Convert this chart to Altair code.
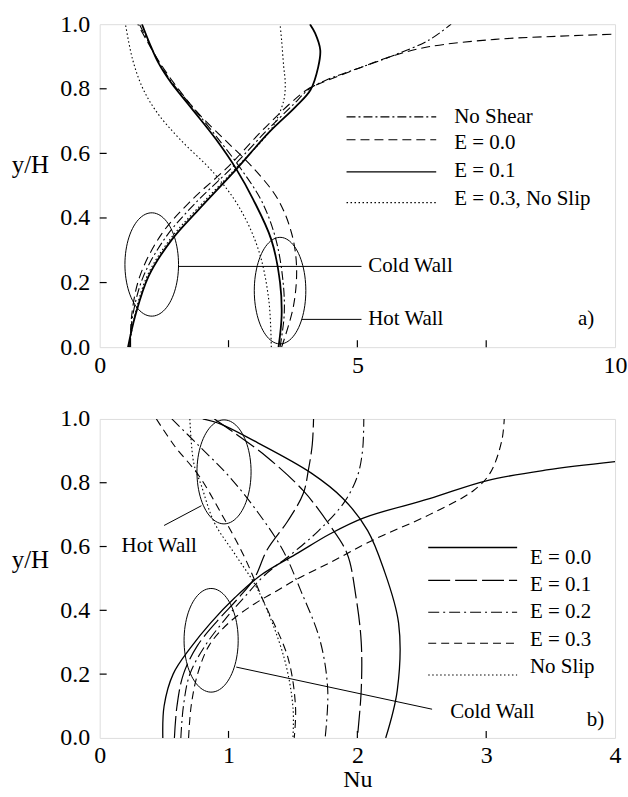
import altair as alt
import numpy as np
import pandas as pd

FONT = "Liberation Serif, Times New Roman, DejaVu Serif, serif"

# ---------------- panel a) ----------------
a_x_ticks = [0, 5, 10]
a_x_minor = [2.5, 5, 7.5]
y_ticks = [0.0, 0.2, 0.4, 0.6, 0.8, 1.0]
y_minor = [0.2, 0.4, 0.6, 0.8]

# cold wall curves
a_ns_cold_nu = [0.58, 0.64, 0.85, 1.28, 1.82, 2.56, 3.22, 3.75, 4.07, 4.44, 5.08, 5.73, 6.38, 6.82]
a_ns_cold_y = [0.0, 0.097, 0.22, 0.34, 0.44, 0.555, 0.667, 0.75, 0.80, 0.83, 0.867, 0.905, 0.95, 1.0]
a_e0_cold_nu = [0.60, 0.62, 0.78, 1.20, 1.75, 2.50, 3.15, 3.70, 4.05, 4.44, 5.08, 5.73, 6.38, 7.67, 8.95, 10.0]
a_e0_cold_y = [0.0, 0.097, 0.22, 0.35, 0.45, 0.56, 0.67, 0.755, 0.80, 0.827, 0.867, 0.904, 0.93, 0.953, 0.963, 0.969]
a_e1_cold_nu = [0.55, 0.69, 0.95, 1.40, 1.92, 2.64, 3.28, 3.80, 4.09, 4.24, 4.28, 4.18, 4.08]
a_e1_cold_y = [0.0, 0.097, 0.22, 0.333, 0.426, 0.549, 0.664, 0.744, 0.796, 0.867, 0.92, 0.972, 1.0]
a_e3_cold_nu = [0.57, 0.68, 0.92, 1.37, 1.90, 2.62, 3.28, 3.45, 3.58, 3.60, 3.57, 3.53, 3.50]
a_e3_cold_y = [0.0, 0.097, 0.22, 0.335, 0.43, 0.55, 0.664, 0.71, 0.77, 0.82, 0.87, 0.95, 1.0]
# hot wall curves
a_ns_hot_nu = [3.50, 3.58, 3.56, 3.42, 3.15, 2.75, 2.30, 1.82, 1.40, 1.12, 0.93, 0.77]
a_ns_hot_y = [0.0, 0.10, 0.20, 0.333, 0.45, 0.55, 0.645, 0.74, 0.82, 0.89, 0.95, 1.0]
a_e0_hot_nu = [3.53, 3.76, 3.82, 3.72, 3.45, 2.95, 2.44, 1.88, 1.43, 1.13, 0.91, 0.74]
a_e0_hot_y = [0.0, 0.127, 0.25, 0.355, 0.46, 0.56, 0.64, 0.73, 0.82, 0.89, 0.95, 1.0]
a_e1_hot_nu = [3.47, 3.53, 3.50, 3.33, 2.98, 2.66, 2.25, 1.78, 1.38, 1.14, 0.97, 0.82]
a_e1_hot_y = [0.0, 0.096, 0.20, 0.333, 0.457, 0.549, 0.645, 0.74, 0.82, 0.88, 0.94, 1.0]
a_e3_hot_nu = [3.33, 3.28, 3.08, 2.70, 2.21, 1.55, 1.12, 0.84, 0.64, 0.50]
a_e3_hot_y = [0.0, 0.148, 0.302, 0.435, 0.54, 0.645, 0.725, 0.80, 0.89, 1.0]

a_series = ["No Shear", "E = 0.0", "E = 0.1", "E = 0.3, No Slip"]
a_leg_line_y = [0.713, 0.642, 0.543, 0.4475]
a_leg_text_y = [0.713, 0.633, 0.546, 0.46]
a_leg_x = [4.79, 6.53, 6.88]

# annotation ellipses: cx, cy, rx, ry
a_ell_cx = [1.01, 3.50]
a_ell_cy = [0.256, 0.175]
a_ell_rx = [0.52, 0.50]
a_ell_ry = [0.16, 0.165]
a_lead_x = [1.53, 3.92]
a_lead_x2 = [5.08, 5.08]
a_lead_y = [0.25, 0.086]
a_lead_y2 = [0.25, 0.086]
a_notes = ["Cold Wall", "Hot Wall", "a)"]
a_notes_x = [5.21, 5.21, 9.28]
a_notes_y = [0.25, 0.086, 0.086]

# ---------------- panel b) ----------------
b_x_ticks = [0, 1, 2, 3, 4]
b_x_minor = [1, 2, 3]

b_e0_cold_nu = [0.49, 0.50, 0.57, 0.70, 0.86, 1.05, 1.25, 1.54, 1.79, 2.05, 2.56, 3.00, 3.47, 4.0]
b_e0_cold_y = [0.0, 0.10, 0.20, 0.28, 0.36, 0.44, 0.51, 0.58, 0.64, 0.69, 0.75, 0.806, 0.84, 0.866]
b_e1_cold_nu = [0.58, 0.60, 0.65, 0.76, 0.92, 1.08, 1.20, 1.30, 1.46, 1.58, 1.62, 1.65, 1.66]
b_e1_cold_y = [0.0, 0.1, 0.2, 0.29, 0.37, 0.44, 0.50, 0.59, 0.68, 0.766, 0.84, 0.92, 1.0]
b_e2_cold_nu = [0.63, 0.65, 0.70, 0.82, 0.97, 1.12, 1.28, 1.50, 1.70, 1.90, 2.0, 2.04, 2.05]
b_e2_cold_y = [0.0, 0.1, 0.2, 0.29, 0.37, 0.44, 0.51, 0.58, 0.65, 0.74, 0.82, 0.9, 1.0]
b_e3_cold_nu = [0.69, 0.71, 0.76, 0.85, 1.0, 1.2, 1.37, 1.54, 1.79, 2.12, 2.56, 2.90, 3.03, 3.12, 3.14]
b_e3_cold_y = [0.0, 0.1, 0.2, 0.29, 0.36, 0.42, 0.46, 0.50, 0.55, 0.62, 0.70, 0.775, 0.83, 0.93, 1.0]

b_e0_hot_nu = [0.80, 0.94, 1.20, 1.64, 1.89, 2.08, 2.20, 2.32, 2.31, 2.22]
b_e0_hot_y = [1.0, 0.984, 0.931, 0.831, 0.75, 0.65, 0.534, 0.36, 0.15, 0.0]
b_e1_hot_nu = [0.89, 1.05, 1.30, 1.58, 1.78, 1.92, 1.99, 2.03, 2.03, 2.0]
b_e1_hot_y = [1.0, 0.955, 0.88, 0.775, 0.67, 0.578, 0.44, 0.3, 0.15, 0.0]
b_e2_hot_nu = [0.56, 0.77, 1.0, 1.23, 1.42, 1.56, 1.71, 1.77, 1.75]
b_e2_hot_y = [1.0, 0.916, 0.822, 0.706, 0.59, 0.4625, 0.306, 0.15, 0.0]
b_e3_hot_nu = [0.44, 0.58, 0.77, 0.94, 1.12, 1.27, 1.46, 1.52, 1.51]
b_e3_hot_y = [1.0, 0.916, 0.822, 0.706, 0.57, 0.43, 0.253, 0.097, 0.0]
b_ns_hot_nu = [0.70, 0.73, 0.79, 0.89, 1.06, 1.23, 1.43, 1.50, 1.50]
b_ns_hot_y = [1.0, 0.862, 0.79, 0.675, 0.57, 0.4625, 0.253, 0.097, 0.0]

b_series = ["E = 0.0", "E = 0.1", "E = 0.2", "E = 0.3", "No Slip"]
b_leg_line_y = [0.597, 0.494, 0.394, 0.297, 0.197]
b_leg_text_y = [0.5625, 0.478, 0.394, 0.306, 0.222]
b_leg_x = [2.55, 3.24, 3.34]

b_ell_cx = [0.865, 0.965]
b_ell_cy = [0.306, 0.834]
b_ell_rx = [0.21, 0.21]
b_ell_ry = [0.1625, 0.163]
b_lead_x = [1.06, 0.79]
b_lead_x2 = [2.58, 0.50]
b_lead_y = [0.222, 0.728]
b_lead_y2 = [0.09, 0.666]
b_notes = ["Hot Wall", "Cold Wall", "b)"]
b_notes_x = [0.17, 2.72, 3.78]
b_notes_y = [0.603, 0.08, 0.056]

# line styles (dash pattern, width)
STY_A = {"No Shear": ([9, 3, 2, 3], 1.1), "E = 0.0": ([9, 5], 1.1),
         "E = 0.1": (None, 1.8), "E = 0.3, No Slip": ([1.5, 2.5], 1.1)}
STY_B = {"E = 0.0": (None, 1.3), "E = 0.1": ([22, 5], 1.2), "E = 0.2": ([11, 4, 2, 4], 1.1),
         "E = 0.3": ([8, 5], 1.1), "No Slip": ([1.5, 2.5], 1.1)}

W = 517


def axes(xvals, fmt, with_title):
    ax = alt.Axis(values=xvals, format=fmt, title="Nu" if with_title else None, tickSize=0,
                  domain=False, grid=False, labelFont=FONT, labelFontSize=24, labelPadding=6,
                  labelColor="black", labelFlush=False, labelOverlap=False,
                  titleFont=FONT, titleFontSize=24, titleFontWeight="normal", titleColor="black",
                  titlePadding=0)
    ay = alt.Axis(values=y_ticks, format=".1f", title="y/H", tickSize=0, domain=False, grid=False,
                  labelFont=FONT, labelFontSize=24, labelPadding=10, labelColor="black",
                  labelFlush=False, labelOverlap=False, titleAngle=0, titleX=-70, titleY=141,
                  titleAlign="center", titleBaseline="middle", titleFont=FONT, titleFontSize=25,
                  titleFontWeight="normal", titleColor="black")
    return ax, ay


def panel(xdom, H, xvals, xminor, curves, styles, series, leg_line_y, leg_text_y, leg_x,
          ell, lead, notes, with_title):
    xs = alt.Scale(domain=xdom, nice=False, zero=False)
    ys = alt.Scale(domain=[0, 1], nice=False, zero=False)
    ax, ay = axes(xvals, "d", with_title)
    X = lambda f: alt.X(f, type="quantitative", scale=xs, axis=ax)
    Y = lambda f: alt.Y(f, type="quantitative", scale=ys, axis=ay)
    layers = []
    for name, nu, yy in curves:
        dash, w = styles[name]
        kw = dict(color="black", strokeWidth=w, interpolate="catmull-rom", clip=True)
        if dash:
            kw["strokeDash"] = dash
        df = pd.DataFrame({"Nu": nu, "y": yy, "i": list(range(len(nu)))})
        layers.append(alt.Chart(df).mark_line(**kw).encode(x=X("Nu"), y=Y("y"), order="i:Q"))
    # ellipses
    t = np.linspace(0, 2 * np.pi, 91)
    cx, cy, rx, ry = ell
    rows = []
    for k in range(len(cx)):
        for j, tt in enumerate(t):
            rows.append({"k": k, "i": j, "Nu": cx[k] + rx[k] * np.cos(tt), "y": cy[k] + ry[k] * np.sin(tt)})
    layers.append(alt.Chart(pd.DataFrame(rows)).mark_line(color="black", strokeWidth=1, interpolate="linear")
                  .encode(x=X("Nu"), y=Y("y"), detail="k:N", order="i:Q"))
    # leader lines
    lx, lx2, ly, ly2 = lead
    ldf = pd.DataFrame({"x": lx, "x2": lx2, "y": ly, "y2": ly2})
    layers.append(alt.Chart(ldf).mark_rule(color="black", strokeWidth=1)
                  .encode(x=X("x"), x2="x2", y=Y("y"), y2="y2"))
    # notes
    nt, nx, ny = notes
    ndf = pd.DataFrame({"t": nt, "x": nx, "y": ny})
    layers.append(alt.Chart(ndf).mark_text(align="left", baseline="middle", font=FONT, fontSize=21, color="black")
                  .encode(x=X("x"), y=Y("y"), text="t:N"))
    # legend
    for s, lyv, tyv in zip(series, leg_line_y, leg_text_y):
        dash, w = styles[s]
        kw = dict(color="black", strokeWidth=min(w, 1.3))
        if dash:
            kw["strokeDash"] = dash
        d = pd.DataFrame({"x": [leg_x[0]], "x2": [leg_x[1]], "y": [lyv], "tx": [leg_x[2]], "ty": [tyv], "t": [s]})
        layers.append(alt.Chart(d).mark_rule(**kw).encode(x=X("x"), x2="x2", y=Y("y")))
        layers.append(alt.Chart(d).mark_text(align="left", baseline="middle", font=FONT, fontSize=21, color="black")
                      .encode(x=X("tx"), y=Y("ty"), text="t:N"))
    # inward ticks
    tdf = pd.DataFrame({"v": xminor})
    layers.append(alt.Chart(tdf).mark_rule(color="black", strokeWidth=1.2)
                  .encode(x=X("v"), y=alt.value(H), y2=alt.value(H - 7)))
    ydf = pd.DataFrame({"v": y_minor})
    layers.append(alt.Chart(ydf).mark_rule(color="black", strokeWidth=1.2)
                  .encode(y=Y("v"), x=alt.value(0), x2=alt.value(7)))
    return alt.layer(*layers).properties(width=W, height=H)


a_curves = [
    ("No Shear", a_ns_cold_nu, a_ns_cold_y), ("E = 0.0", a_e0_cold_nu, a_e0_cold_y),
    ("E = 0.1", a_e1_cold_nu, a_e1_cold_y), ("E = 0.3, No Slip", a_e3_cold_nu, a_e3_cold_y),
    ("No Shear", a_ns_hot_nu, a_ns_hot_y), ("E = 0.0", a_e0_hot_nu, a_e0_hot_y),
    ("E = 0.1", a_e1_hot_nu, a_e1_hot_y), ("E = 0.3, No Slip", a_e3_hot_nu, a_e3_hot_y),
]
b_curves = [
    ("E = 0.0", b_e0_cold_nu, b_e0_cold_y), ("E = 0.1", b_e1_cold_nu, b_e1_cold_y),
    ("E = 0.2", b_e2_cold_nu, b_e2_cold_y), ("E = 0.3", b_e3_cold_nu, b_e3_cold_y),
    ("E = 0.0", b_e0_hot_nu, b_e0_hot_y), ("E = 0.1", b_e1_hot_nu, b_e1_hot_y),
    ("E = 0.2", b_e2_hot_nu, b_e2_hot_y), ("E = 0.3", b_e3_hot_nu, b_e3_hot_y),
    ("No Slip", b_ns_hot_nu, b_ns_hot_y),
]

top = panel([0, 10], 324, a_x_ticks, a_x_minor, a_curves, STY_A, a_series, a_leg_line_y, a_leg_text_y,
            a_leg_x, (a_ell_cx, a_ell_cy, a_ell_rx, a_ell_ry), (a_lead_x, a_lead_x2, a_lead_y, a_lead_y2),
            (a_notes, a_notes_x, a_notes_y), False)
bot = panel([0, 4], 320, b_x_ticks, b_x_minor, b_curves, STY_B, b_series, b_leg_line_y, b_leg_text_y,
            b_leg_x, (b_ell_cx, b_ell_cy, b_ell_rx, b_ell_ry), (b_lead_x, b_lead_x2, b_lead_y, b_lead_y2),
            (b_notes, b_notes_x, b_notes_y), True)

chart = alt.vconcat(top, bot, spacing=72, bounds="flush").properties(
    padding={"left": 10, "top": 10, "right": 0, "bottom": 0}
).configure_view(stroke="black", strokeWidth=1.6).configure(background="white")

chart.save("out.html", embed_options={"renderer": "svg", "actions": False})
